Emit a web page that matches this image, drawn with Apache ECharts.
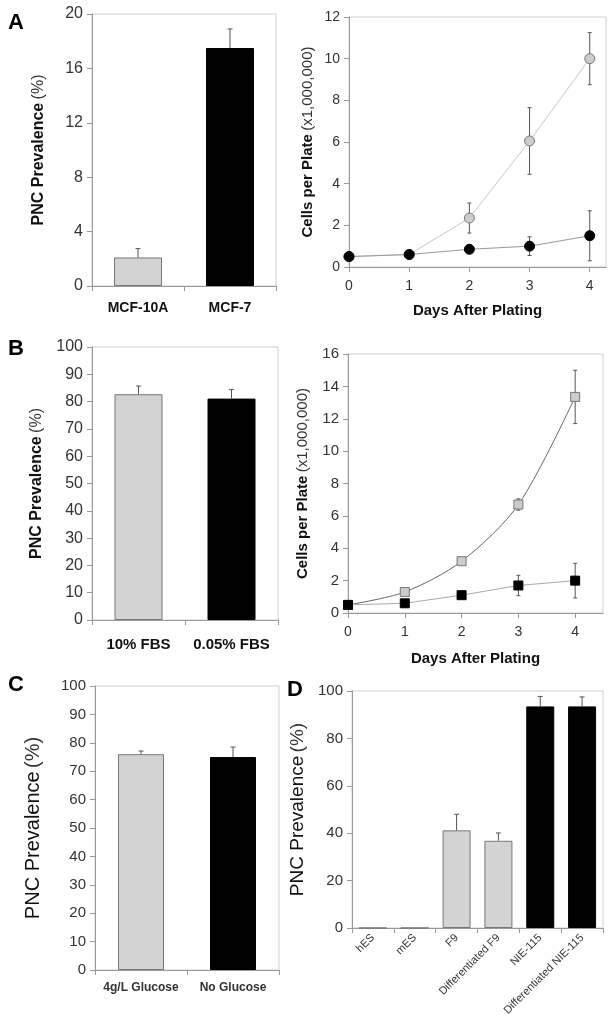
<!DOCTYPE html>
<html>
<head>
<meta charset="utf-8">
<script src="https://cdn.jsdelivr.net/npm/echarts@6/dist/echarts.min.js"></script>
<style>html,body{margin:0;padding:0;background:#fff}#c{width:615px;height:1028px}</style>
</head>
<body>
<div id="c"></div>
<script>
// ---- Data ----
const aBarCats = ['MCF-10A', 'MCF-7'];
const aBarVals = [2.1, 17.5];
const aBarErr = [0.65, 1.4];

const days = [0, 1, 2, 3, 4];
const aGrayVals = [0.5, 0.6, 2.35, 6.05, 10.0];
const aGrayErr = [0, 0, 0.72, 1.6, 1.25];
const aBlackVals = [0.5, 0.6, 0.85, 1.0, 1.5];
const aBlackErr = [0, 0, 0, 0.45, 1.2];

const bBarCats = ['10% FBS', '0.05% FBS'];
const bBarVals = [82.7, 81.1];
const bBarErr = [3.0, 3.3];

const bGrayVals = [0.5, 1.3, 3.2, 6.7, 13.35];
const bGrayErr = [0, 0, 0, 0.35, 1.65];
const bBlackVals = [0.5, 0.6, 1.1, 1.7, 2.0];
const bBlackErr = [0, 0, 0, 0.63, 1.07];

const cBarCats = ['4g/L Glucose', 'No Glucose'];
const cBarVals = [76.0, 75.0];
const cBarErr = [1.1, 3.5];

const dBarCats = ['hES', 'mES', 'F9', 'Differentiated F9', 'NIE-115', 'Differentiated NIE-115'];
const dBarVals = [0, 0, 41.2, 36.8, 93.5, 93.5];
const dBarErr = [0, 0, 6.8, 3.3, 4.2, 4.0];

// ---- Styles ----
const FONT = '"Liberation Sans", Arial, sans-serif';
const GRAY = '#d3d3d3';
const BLACK = '#000000';
const aBarColors = [GRAY, BLACK];
const bBarColors = [GRAY, BLACK];
const cBarColors = [GRAY, BLACK];
const dBarColors = [GRAY, GRAY, GRAY, GRAY, BLACK, BLACK];

const chart = echarts.init(document.getElementById('c'), null, {renderer: 'canvas'});

function errRender(capW, both) {
  return function (params, api) {
    const x = api.value(0), v = api.value(1), e = api.value(2);
    if (!e) return null;
    const lo = both ? v - e : v;
    const a = api.coord([x, lo]), b = api.coord([x, v + e]);
    const st = {stroke: '#555', lineWidth: 1};
    const ch = [
      {type: 'line', shape: {x1: a[0], y1: a[1], x2: b[0], y2: b[1]}, style: st},
      {type: 'line', shape: {x1: b[0] - capW, y1: b[1], x2: b[0] + capW, y2: b[1]}, style: st}
    ];
    if (both) ch.push({type: 'line', shape: {x1: a[0] - capW, y1: a[1], x2: a[0] + capW, y2: a[1]}, style: st});
    return {type: 'group', children: ch};
  };
}

function errData(xs, vals, errs) { return vals.map((v, i) => [xs[i], v, errs[i]]); }

const axisLineStyle = {lineStyle: {color: '#999', width: 1}};
const tickStyle = {show: true, length: 5, lineStyle: {color: '#999'}};

function yName(bold, size) {
  return {
    name: '{b|PNC Prevalence} {n|(%)}',
    nameTextStyle: {rich: {
      b: {fontFamily: FONT, fontSize: size, fontWeight: bold ? 'bold' : 'normal', color: '#111'},
      n: {fontFamily: FONT, fontSize: size, fontWeight: 'normal', color: '#333'}
    }}
  };
}

const grids = [
  {left: 92, top: 14, width: 184, height: 272},   // A left
  {left: 349, top: 17, width: 257, height: 250},  // A right
  {left: 92, top: 347, width: 186, height: 273},  // B left
  {left: 348, top: 354, width: 255, height: 259}, // B right
  {left: 95, top: 686, width: 184, height: 284},  // C
  {left: 352, top: 691, width: 251, height: 237}  // D
].map(g => Object.assign({show: true, borderColor: '#cfcfcf', borderWidth: 1, backgroundColor: 'transparent'}, g));

function catX(gi, cats, labelOpts) {
  return Object.assign({
    type: 'category', gridIndex: gi, data: cats,
    axisLine: axisLineStyle,
    axisTick: Object.assign({interval: 0}, tickStyle),
    axisLabel: Object.assign({interval: 0, fontFamily: FONT, color: '#111'}, labelOpts)
  });
}
function valY(gi, min, max, interval, fs, extra) {
  return Object.assign({
    type: 'value', gridIndex: gi, min: min, max: max, interval: interval,
    nameLocation: 'middle', nameRotate: 90,
    axisLine: Object.assign({show: true}, axisLineStyle),
    axisTick: tickStyle,
    splitLine: {show: false},
    axisLabel: {fontFamily: FONT, fontSize: fs, color: '#333', margin: 9}
  }, extra);
}
function dayX(gi, max) {
  return {
    type: 'value', gridIndex: gi, min: 0, max: max, interval: 1,
    name: 'Days After Plating', nameLocation: 'middle',
    nameTextStyle: {fontFamily: FONT, fontSize: 15, fontWeight: 'bold', color: '#111'},
    axisLine: axisLineStyle,
    axisTick: Object.assign({customValues: [0, 1, 2, 3, 4]}, tickStyle),
    splitLine: {show: false},
    axisLabel: {customValues: [0, 1, 2, 3, 4], fontFamily: FONT, fontSize: 14, color: '#333', margin: 12,
      formatter: v => (Math.abs(v - Math.round(v)) < 1e-6 ? String(Math.round(v)) : '')}
  };
}
const cellsName = {
  name: '{b|Cells per Plate} {n|(x1,000,000)}',
  nameTextStyle: {rich: {
    b: {fontFamily: FONT, fontSize: 15, fontWeight: 'bold', color: '#111'},
    n: {fontFamily: FONT, fontSize: 15, color: '#333'}
  }}
};

const xAxes = [
  catX(0, aBarCats, {fontSize: 14, fontWeight: 'bold', margin: 15}),
  Object.assign(dayX(1, 4.27), {nameGap: 36}),
  catX(2, bBarCats, {fontSize: 15, fontWeight: 'bold', margin: 17}),
  Object.assign(dayX(3, 4.49), {nameGap: 38}),
  catX(4, cBarCats, {fontSize: 12, fontWeight: 'bold', color: '#333', margin: 12}),
  catX(5, dBarCats, {fontSize: 11, rotate: 45, color: '#333', margin: 8})
];
const yAxes = [
  valY(0, 0, 20, 4, 16, Object.assign({nameGap: 45}, yName(true, 16))),
  valY(1, 0, 12, 2, 14, Object.assign({nameGap: 34}, cellsName)),
  valY(2, 0, 100, 10, 16, Object.assign({nameGap: 47}, yName(true, 16))),
  valY(3, 0, 16, 2, 15, Object.assign({nameGap: 38}, cellsName)),
  valY(4, 0, 100, 10, 15, Object.assign({nameGap: 52}, yName(false, 20))),
  valY(5, 0, 100, 20, 15, Object.assign({nameGap: 45}, yName(false, 19)))
];

function barSeries(gi, vals, colors, width) {
  return {
    type: 'bar', xAxisIndex: gi, yAxisIndex: gi, barWidth: width,
    data: vals.map((v, i) => ({value: v, itemStyle: {color: colors[i], borderColor: colors[i] === BLACK ? '#000' : '#777'}})),
    itemStyle: {borderWidth: 1},
    z: 2
  };
}
function barErr(gi, vals, errs) {
  return {
    type: 'custom', xAxisIndex: gi, yAxisIndex: gi,
    renderItem: errRender(2.5, false),
    data: errData(vals.map((_, i) => i), vals, errs),
    encode: {x: 0, y: 1}, z: 3, silent: true
  };
}
function lineSeries(gi, vals, lineColor, fill, border, symbol, size, smooth) {
  return {
    type: 'line', xAxisIndex: gi, yAxisIndex: gi,
    data: vals.map((v, i) => [days[i], v]),
    symbol: symbol, symbolSize: size, smooth: smooth,
    showAllSymbol: true,
    lineStyle: {color: lineColor, width: 1},
    itemStyle: {color: fill, borderColor: border, borderWidth: 1, opacity: 1},
    z: 5
  };
}
function lineErr(gi, vals, errs) {
  return {
    type: 'custom', xAxisIndex: gi, yAxisIndex: gi,
    renderItem: errRender(2, true),
    data: errData(days, vals, errs),
    encode: {x: 0, y: 1}, z: 3, silent: true
  };
}

const series = [
  barSeries(0, aBarVals, aBarColors, 48), barErr(0, aBarVals, aBarErr),
  lineErr(1, aGrayVals, aGrayErr), lineErr(1, aBlackVals, aBlackErr),
  lineSeries(1, aGrayVals, '#c8c8c8', '#cccccc', '#777', 'circle', 10, false),
  lineSeries(1, aBlackVals, '#999999', '#000', '#000', 'circle', 10, false),
  barSeries(2, bBarVals, bBarColors, 48), barErr(2, bBarVals, bBarErr),
  lineErr(3, bGrayVals, bGrayErr), lineErr(3, bBlackVals, bBlackErr),
  lineSeries(3, bGrayVals, '#666666', '#cccccc', '#777', 'rect', 9, 0.3),
  lineSeries(3, bBlackVals, '#aaaaaa', '#000', '#000', 'rect', 9, false),
  barSeries(4, cBarVals, cBarColors, 46), barErr(4, cBarVals, cBarErr),
  barSeries(5, dBarVals, dBarColors, 28), barErr(5, dBarVals, dBarErr)
];

const letterStyle = {fontFamily: FONT, fontSize: 22, fontWeight: 'bold', fill: '#000'};
const graphic = [
  {type: 'text', left: 8, top: 12, style: Object.assign({text: 'A'}, letterStyle)},
  {type: 'text', left: 8, top: 338, style: Object.assign({text: 'B'}, letterStyle)},
  {type: 'text', left: 8, top: 674, style: Object.assign({text: 'C'}, letterStyle)},
  {type: 'text', left: 287, top: 679, style: Object.assign({text: 'D'}, letterStyle)}
];

chart.setOption({
  animation: false,
  backgroundColor: '#fff',
  grid: grids,
  xAxis: xAxes,
  yAxis: yAxes,
  series: series,
  graphic: graphic
});
</script>
</body>
</html>
